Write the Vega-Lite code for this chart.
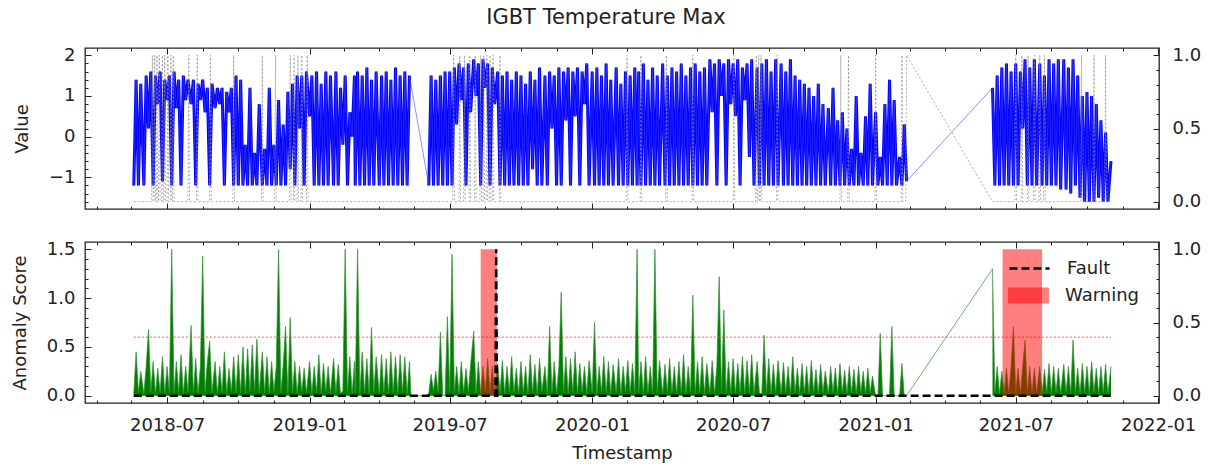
{
"$schema":"https://vega.github.io/schema/vega-lite/v6.json",
"padding":{"left":10,"top":6,"right":3,"bottom":4},
"title":{"text":"IGBT Temperature Max","anchor":"middle","fontSize":21,"fontWeight":"normal","font":"DejaVu Sans","color":"#222","offset":18},
"config":{"view":{"stroke":"#222","strokeWidth":1.3},"axis":{"domain":false,"grid":false,"offset":0,"labelFlush":false,"labelOverlap":false,"labelFont":"DejaVu Sans","labelFontSize":18,"labelColor":"#222","titleFont":"DejaVu Sans","titleFontSize":18,"titleFontWeight":"normal","titleColor":"#222","tickColor":"#222","tickWidth":1},"legend":{"padding":0}},
"datasets":{
"main":[
{"t":"2018-05-19","v":-1.2,"s":0.02},{"t":"2018-05-22","v":1.4,"s":0.45},{"t":"2018-05-25","v":-1.2,"s":0.03},{"t":"2018-05-28","v":1.3,"s":0.25},
{"t":"2018-06-01","v":-1.2,"s":0.02},{"t":"2018-06-04","v":1.5,"s":0.3},{"t":"2018-06-07","v":0.2,"s":0.68},{"t":"2018-06-10","v":1.6,"s":0.04},{"t":"2018-06-13","v":-1.2,"s":0.35},{"t":"2018-06-16","v":1.5,"s":0.02},{"t":"2018-06-19","v":0.8,"s":0.28},{"t":"2018-06-22","v":1.6,"s":0.03},{"t":"2018-06-25","v":-1.1,"s":0.4},{"t":"2018-06-28","v":1.4,"s":0.02},
{"t":"2018-07-01","v":0.9,"s":0.3},{"t":"2018-07-04","v":1.5,"s":0.03},{"t":"2018-07-07","v":-1.2,"s":1.5},{"t":"2018-07-10","v":1.6,"s":0.02},{"t":"2018-07-13","v":0.7,"s":0.35},{"t":"2018-07-16","v":1.4,"s":0.03},{"t":"2018-07-19","v":-1.2,"s":0.42},{"t":"2018-07-22","v":1.5,"s":0.02},{"t":"2018-07-25","v":0.9,"s":0.3},{"t":"2018-07-28","v":1.4,"s":0.04},
{"t":"2018-08-01","v":0.8,"s":0.72},{"t":"2018-08-04","v":1.4,"s":0.03},{"t":"2018-08-07","v":-1.2,"s":0.38},{"t":"2018-08-10","v":1.3,"s":0.02},{"t":"2018-08-13","v":0.9,"s":0.3},{"t":"2018-08-16","v":1.4,"s":1.43},{"t":"2018-08-19","v":0.6,"s":0.03},{"t":"2018-08-22","v":1.2,"s":0.35},{"t":"2018-08-25","v":-1.2,"s":0.56},{"t":"2018-08-28","v":1.3,"s":0.03},
{"t":"2018-09-01","v":0.7,"s":0.35},{"t":"2018-09-04","v":1.2,"s":0.02},{"t":"2018-09-07","v":0.8,"s":0.3},{"t":"2018-09-10","v":1.2,"s":0.03},{"t":"2018-09-13","v":-1.2,"s":0.45},{"t":"2018-09-16","v":1.1,"s":0.02},{"t":"2018-09-19","v":0.6,"s":0.28},{"t":"2018-09-22","v":1.2,"s":0.04},{"t":"2018-09-25","v":-1.2,"s":0.4},{"t":"2018-09-28","v":1.5,"s":0.03},
{"t":"2018-10-01","v":-1.2,"s":0.42},{"t":"2018-10-04","v":1.4,"s":0.03},{"t":"2018-10-07","v":-1.2,"s":0.5},{"t":"2018-10-10","v":-0.2,"s":0.02},{"t":"2018-10-13","v":-1.2,"s":0.48},{"t":"2018-10-16","v":1.2,"s":0.04},{"t":"2018-10-19","v":-1.2,"s":0.52},{"t":"2018-10-22","v":-0.4,"s":0.05},{"t":"2018-10-25","v":-1.2,"s":0.58},{"t":"2018-10-28","v":0.8,"s":0.03},
{"t":"2018-11-01","v":-1.2,"s":0.45},{"t":"2018-11-04","v":-0.3,"s":0.03},{"t":"2018-11-07","v":-1.2,"s":0.4},{"t":"2018-11-10","v":1.2,"s":0.02},{"t":"2018-11-13","v":-1.2,"s":0.35},{"t":"2018-11-16","v":-0.2,"s":0.04},{"t":"2018-11-19","v":-1.2,"s":0.3},{"t":"2018-11-22","v":0.9,"s":1.5},{"t":"2018-11-25","v":-1.2,"s":0.03},{"t":"2018-11-28","v":0.3,"s":0.32},
{"t":"2018-12-01","v":-1.2,"s":0.71},{"t":"2018-12-04","v":1.1,"s":0.02},{"t":"2018-12-07","v":-0.8,"s":0.8},{"t":"2018-12-10","v":1.3,"s":0.03},{"t":"2018-12-13","v":-1.2,"s":0.35},{"t":"2018-12-16","v":1.5,"s":0.02},{"t":"2018-12-19","v":0.2,"s":0.3},{"t":"2018-12-22","v":1.5,"s":0.04},{"t":"2018-12-25","v":-1.2,"s":0.28},{"t":"2018-12-28","v":1.6,"s":0.03},
{"t":"2019-01-01","v":0.5,"s":0.35},{"t":"2019-01-04","v":1.5,"s":0.02},{"t":"2019-01-07","v":-1.2,"s":0.3},{"t":"2019-01-10","v":1.6,"s":0.03},{"t":"2019-01-13","v":-1.2,"s":0.42},{"t":"2019-01-16","v":1.3,"s":0.02},{"t":"2019-01-19","v":-1.2,"s":0.33},{"t":"2019-01-22","v":1.6,"s":0.04},{"t":"2019-01-25","v":-1.2,"s":0.3},{"t":"2019-01-28","v":1.5,"s":0.02},
{"t":"2019-02-01","v":-1.2,"s":0.38},{"t":"2019-02-04","v":1.6,"s":0.03},{"t":"2019-02-07","v":-1.2,"s":0.32},{"t":"2019-02-10","v":1.2,"s":0.02},{"t":"2019-02-13","v":-0.2,"s":0.05},{"t":"2019-02-16","v":1.5,"s":1.5},{"t":"2019-02-19","v":-1.2,"s":0.03},{"t":"2019-02-22","v":0.6,"s":0.4},{"t":"2019-02-25","v":0.0,"s":0.02},{"t":"2019-02-28","v":1.5,"s":0.35},
{"t":"2019-03-01","v":-1.2,"s":0.03},{"t":"2019-03-04","v":1.6,"s":1.5},{"t":"2019-03-07","v":-1.2,"s":0.02},{"t":"2019-03-10","v":1.5,"s":0.45},{"t":"2019-03-13","v":-1.2,"s":0.03},{"t":"2019-03-16","v":1.7,"s":0.38},{"t":"2019-03-19","v":-1.2,"s":0.02},{"t":"2019-03-22","v":1.4,"s":0.7},{"t":"2019-03-25","v":-1.2,"s":0.03},{"t":"2019-03-28","v":1.6,"s":0.4},
{"t":"2019-04-01","v":-1.2,"s":0.02},{"t":"2019-04-04","v":1.5,"s":0.42},{"t":"2019-04-07","v":-1.2,"s":0.03},{"t":"2019-04-10","v":1.6,"s":0.38},{"t":"2019-04-13","v":-1.2,"s":0.02},{"t":"2019-04-16","v":1.4,"s":0.45},{"t":"2019-04-19","v":-1.2,"s":0.03},{"t":"2019-04-22","v":1.7,"s":0.4},{"t":"2019-04-25","v":-1.2,"s":0.02},{"t":"2019-04-28","v":1.5,"s":0.42},
{"t":"2019-05-01","v":-1.2,"s":0.03},{"t":"2019-05-04","v":1.6,"s":0.4},{"t":"2019-05-07","v":-1.2,"s":0.02},{"t":"2019-05-10","v":1.5,"s":0.35},{"t":"2019-05-12","s":0.0},{"t":"2019-06-02","s":0.0},
{"t":"2019-06-04","v":-1.2,"s":0.03},{"t":"2019-06-07","v":1.5,"s":0.22},{"t":"2019-06-10","v":-1.2,"s":0.05},{"t":"2019-06-13","v":1.4,"s":0.25},{"t":"2019-06-16","v":-1.2,"s":0.04},{"t":"2019-06-19","v":1.5,"s":0.65},{"t":"2019-06-22","v":-1.2,"s":0.0},{"t":"2019-06-25","v":1.6,"s":0.0},{"t":"2019-06-28","v":-1.2,"s":0.81},
{"t":"2019-07-01","v":1.6,"s":0.04},{"t":"2019-07-04","v":-1.2,"s":1.45},{"t":"2019-07-07","v":1.7,"s":0.03},{"t":"2019-07-10","v":0.3,"s":0.3},{"t":"2019-07-13","v":1.8,"s":0.02},{"t":"2019-07-16","v":0.9,"s":0.35},{"t":"2019-07-19","v":1.7,"s":0.03},{"t":"2019-07-22","v":-1.2,"s":0.28},{"t":"2019-07-25","v":1.8,"s":0.04},{"t":"2019-07-28","v":0.6,"s":0.32},
{"t":"2019-08-01","v":1.9,"s":0.66},{"t":"2019-08-04","v":1.0,"s":0.03},{"t":"2019-08-07","v":1.8,"s":0.35},{"t":"2019-08-10","v":-1.2,"s":0.02},{"t":"2019-08-13","v":1.9,"s":0.3},{"t":"2019-08-16","v":1.2,"s":0.04},{"t":"2019-08-19","v":1.8,"s":0.38},{"t":"2019-08-22","v":-1.2,"s":0.03},{"t":"2019-08-25","v":1.7,"s":0.3},{"t":"2019-08-28","v":0.8,"s":0.02},
{"t":"2019-09-01","v":1.6,"s":0.33},{"t":"2019-09-04","v":-1.2,"s":0.03},{"t":"2019-09-07","v":1.5,"s":0.36},{"t":"2019-09-10","v":-1.2,"s":0.02},{"t":"2019-09-13","v":1.6,"s":0.3},{"t":"2019-09-16","v":-1.2,"s":0.04},{"t":"2019-09-19","v":1.4,"s":0.4},{"t":"2019-09-22","v":-1.2,"s":0.03},{"t":"2019-09-25","v":1.6,"s":0.28},{"t":"2019-09-28","v":-1.2,"s":0.02},
{"t":"2019-10-01","v":1.5,"s":0.35},{"t":"2019-10-04","v":-1.2,"s":0.03},{"t":"2019-10-07","v":1.3,"s":0.3},{"t":"2019-10-10","v":-1.2,"s":0.02},{"t":"2019-10-13","v":1.6,"s":0.42},{"t":"2019-10-16","v":-0.8,"s":0.03},{"t":"2019-10-19","v":1.4,"s":0.32},{"t":"2019-10-22","v":-1.2,"s":0.02},{"t":"2019-10-25","v":1.7,"s":0.38},{"t":"2019-10-28","v":-1.2,"s":0.04},
{"t":"2019-11-01","v":1.5,"s":0.3},{"t":"2019-11-04","v":-1.2,"s":0.02},{"t":"2019-11-07","v":1.6,"s":0.71},{"t":"2019-11-10","v":0.2,"s":0.03},{"t":"2019-11-13","v":1.5,"s":0.35},{"t":"2019-11-16","v":-1.2,"s":0.02},{"t":"2019-11-19","v":1.7,"s":0.3},{"t":"2019-11-22","v":-1.2,"s":1.06},{"t":"2019-11-25","v":1.6,"s":0.03},{"t":"2019-11-28","v":0.4,"s":0.4},
{"t":"2019-12-01","v":1.7,"s":0.02},{"t":"2019-12-04","v":-1.2,"s":0.38},{"t":"2019-12-07","v":1.6,"s":0.03},{"t":"2019-12-10","v":0.5,"s":0.45},{"t":"2019-12-13","v":1.7,"s":0.02},{"t":"2019-12-16","v":-1.2,"s":0.33},{"t":"2019-12-19","v":1.6,"s":0.04},{"t":"2019-12-22","v":0.8,"s":0.3},{"t":"2019-12-25","v":1.8,"s":0.02},{"t":"2019-12-28","v":-1.2,"s":0.36},
{"t":"2020-01-01","v":1.6,"s":0.03},{"t":"2020-01-04","v":-1.2,"s":0.75},{"t":"2020-01-07","v":1.7,"s":0.02},{"t":"2020-01-10","v":-1.2,"s":0.3},{"t":"2020-01-13","v":1.5,"s":0.04},{"t":"2020-01-16","v":-1.2,"s":0.4},{"t":"2020-01-19","v":1.8,"s":0.03},{"t":"2020-01-22","v":-1.2,"s":0.35},{"t":"2020-01-25","v":1.4,"s":0.02},{"t":"2020-01-28","v":-1.2,"s":0.32},
{"t":"2020-02-01","v":1.7,"s":0.03},{"t":"2020-02-04","v":-1.2,"s":0.38},{"t":"2020-02-07","v":1.3,"s":0.02},{"t":"2020-02-10","v":-1.2,"s":0.3},{"t":"2020-02-13","v":1.6,"s":0.04},{"t":"2020-02-16","v":-1.2,"s":0.36},{"t":"2020-02-19","v":1.5,"s":0.03},{"t":"2020-02-22","v":-1.2,"s":0.33},{"t":"2020-02-25","v":1.7,"s":0.02},{"t":"2020-02-28","v":-1.2,"s":1.5},
{"t":"2020-03-01","v":1.6,"s":0.03},{"t":"2020-03-04","v":-1.2,"s":0.35},{"t":"2020-03-07","v":1.8,"s":0.02},{"t":"2020-03-10","v":-1.2,"s":0.4},{"t":"2020-03-13","v":1.4,"s":0.03},{"t":"2020-03-16","v":-1.2,"s":0.3},{"t":"2020-03-19","v":1.7,"s":0.02},{"t":"2020-03-22","v":-1.2,"s":1.5},{"t":"2020-03-25","v":1.5,"s":0.03},{"t":"2020-03-28","v":-1.2,"s":0.36},
{"t":"2020-04-01","v":1.8,"s":0.02},{"t":"2020-04-04","v":-1.2,"s":0.32},{"t":"2020-04-07","v":1.5,"s":0.04},{"t":"2020-04-10","v":-1.2,"s":0.38},{"t":"2020-04-13","v":1.7,"s":0.03},{"t":"2020-04-16","v":-1.2,"s":0.3},{"t":"2020-04-19","v":1.6,"s":0.02},{"t":"2020-04-22","v":-1.2,"s":0.35},{"t":"2020-04-25","v":1.8,"s":0.03},{"t":"2020-04-28","v":-1.2,"s":0.42},
{"t":"2020-05-01","v":1.5,"s":0.02},{"t":"2020-05-04","v":-1.2,"s":0.3},{"t":"2020-05-07","v":1.7,"s":0.03},{"t":"2020-05-10","v":-1.2,"s":1.03},{"t":"2020-05-13","v":1.8,"s":0.02},{"t":"2020-05-16","v":-1.2,"s":0.35},{"t":"2020-05-19","v":1.6,"s":0.03},{"t":"2020-05-22","v":-1.2,"s":0.4},{"t":"2020-05-25","v":1.7,"s":0.02},{"t":"2020-05-28","v":-1.2,"s":0.33},
{"t":"2020-06-01","v":1.9,"s":0.03},{"t":"2020-06-04","v":0.6,"s":0.36},{"t":"2020-06-07","v":1.8,"s":0.02},{"t":"2020-06-10","v":-1.2,"s":0.3},{"t":"2020-06-13","v":1.9,"s":1.22},{"t":"2020-06-16","v":1.0,"s":0.03},{"t":"2020-06-19","v":1.8,"s":0.88},{"t":"2020-06-22","v":-1.2,"s":0.02},{"t":"2020-06-25","v":1.9,"s":0.35},{"t":"2020-06-28","v":0.8,"s":0.03},
{"t":"2020-07-01","v":1.8,"s":0.38},{"t":"2020-07-04","v":0.5,"s":0.02},{"t":"2020-07-07","v":1.9,"s":0.33},{"t":"2020-07-10","v":-1.2,"s":0.03},{"t":"2020-07-13","v":1.7,"s":0.4},{"t":"2020-07-16","v":0.9,"s":0.02},{"t":"2020-07-19","v":1.8,"s":0.36},{"t":"2020-07-22","v":-0.5,"s":0.03},{"t":"2020-07-25","v":1.9,"s":0.42},{"t":"2020-07-28","v":-1.2,"s":0.02},
{"t":"2020-08-01","v":1.7,"s":0.35},{"t":"2020-08-04","v":-1.2,"s":0.03},{"t":"2020-08-07","v":1.8,"s":0.02},{"t":"2020-08-10","v":-1.2,"s":0.62},{"t":"2020-08-13","v":1.9,"s":0.03},{"t":"2020-08-16","v":-1.2,"s":0.38},{"t":"2020-08-19","v":1.6,"s":0.02},{"t":"2020-08-22","v":-1.2,"s":0.32},{"t":"2020-08-25","v":1.9,"s":0.03},{"t":"2020-08-28","v":-1.2,"s":0.36},
{"t":"2020-09-01","v":1.8,"s":0.02},{"t":"2020-09-04","v":-1.2,"s":0.34},{"t":"2020-09-07","v":1.6,"s":0.03},{"t":"2020-09-10","v":-1.2,"s":0.3},{"t":"2020-09-13","v":1.9,"s":0.02},{"t":"2020-09-16","v":-1.2,"s":0.4},{"t":"2020-09-19","v":1.5,"s":0.03},{"t":"2020-09-22","v":-1.2,"s":0.28},{"t":"2020-09-25","v":1.4,"s":0.02},{"t":"2020-09-28","v":-1.2,"s":0.33},
{"t":"2020-10-01","v":1.3,"s":0.03},{"t":"2020-10-04","v":-1.2,"s":0.3},{"t":"2020-10-07","v":1.2,"s":0.02},{"t":"2020-10-10","v":-1.2,"s":0.36},{"t":"2020-10-13","v":1.0,"s":0.03},{"t":"2020-10-16","v":-1.2,"s":0.27},{"t":"2020-10-19","v":1.3,"s":0.02},{"t":"2020-10-22","v":-1.2,"s":0.32},{"t":"2020-10-25","v":0.8,"s":0.03},{"t":"2020-10-28","v":-1.2,"s":0.25},
{"t":"2020-11-01","v":0.7,"s":0.02},{"t":"2020-11-04","v":-1.2,"s":0.3},{"t":"2020-11-07","v":1.2,"s":0.03},{"t":"2020-11-10","v":-1.2,"s":0.28},{"t":"2020-11-13","v":0.4,"s":0.02},{"t":"2020-11-16","v":-1.2,"s":0.33},{"t":"2020-11-19","v":0.6,"s":0.03},{"t":"2020-11-22","v":-1.2,"s":0.26},{"t":"2020-11-25","v":0.2,"s":0.02},{"t":"2020-11-28","v":-1.2,"s":0.3},
{"t":"2020-12-01","v":-0.3,"s":0.03},{"t":"2020-12-04","v":-1.2,"s":0.27},{"t":"2020-12-07","v":1.0,"s":0.02},{"t":"2020-12-10","v":-1.2,"s":0.3},{"t":"2020-12-13","v":-0.4,"s":0.03},{"t":"2020-12-16","v":-1.2,"s":0.25},{"t":"2020-12-19","v":0.5,"s":0.02},{"t":"2020-12-22","v":-1.2,"s":0.28},{"t":"2020-12-25","v":1.3,"s":0.03},{"t":"2020-12-28","v":-1.2,"s":0.2},
{"t":"2021-01-01","v":0.6,"s":0.0},{"t":"2021-01-04","v":-1.2,"s":0.0},{"t":"2021-01-07","v":-0.5,"s":0.64},{"t":"2021-01-10","v":-1.2,"s":0.0},{"t":"2021-01-13","v":0.8,"s":0.0},{"t":"2021-01-16","v":-1.2,"s":0.0},{"t":"2021-01-19","v":1.4,"s":0.0},{"t":"2021-01-22","v":-1.2,"s":0.71},{"t":"2021-01-25","v":0.9,"s":0.0},{"t":"2021-01-28","v":-1.2,"s":0.0},
{"t":"2021-02-01","v":-0.5,"s":0.0},{"t":"2021-02-04","v":-1.2,"s":0.33},{"t":"2021-02-07","v":0.3,"s":0.0},{"t":"2021-02-10","v":-1.1,"s":0.0},{"t":"2021-04-01"},
{"t":"2021-06-01","v":1.2,"s":1.3},{"t":"2021-06-04","v":-1.2,"s":0.03},{"t":"2021-06-07","v":1.5,"s":0.3},{"t":"2021-06-10","v":-1.2,"s":0.02},{"t":"2021-06-13","v":1.7,"s":0.25},{"t":"2021-06-16","v":-1.2,"s":0.03},{"t":"2021-06-19","v":1.8,"s":0.28},{"t":"2021-06-22","v":-1.2,"s":0.02},{"t":"2021-06-25","v":1.6,"s":0.3},{"t":"2021-06-28","v":-1.2,"s":0.71},
{"t":"2021-07-01","v":1.8,"s":0.03},{"t":"2021-07-04","v":-1.2,"s":0.28},{"t":"2021-07-07","v":1.6,"s":0.02},{"t":"2021-07-10","v":0.2,"s":0.3},{"t":"2021-07-13","v":1.9,"s":0.57},{"t":"2021-07-16","v":-1.2,"s":0.03},{"t":"2021-07-19","v":1.7,"s":0.3},{"t":"2021-07-22","v":-1.2,"s":0.02},{"t":"2021-07-25","v":1.9,"s":0.28},{"t":"2021-07-28","v":-1.2,"s":0.03},
{"t":"2021-08-01","v":1.8,"s":0.3},{"t":"2021-08-04","v":-1.2,"s":0.02},{"t":"2021-08-07","v":1.5,"s":0.27},{"t":"2021-08-10","v":-1.2,"s":0.03},{"t":"2021-08-13","v":1.9,"s":0.33},{"t":"2021-08-16","v":-1.2,"s":0.02},{"t":"2021-08-19","v":1.8,"s":0.3},{"t":"2021-08-22","v":-1.2,"s":0.03},{"t":"2021-08-25","v":1.9,"s":0.28},{"t":"2021-08-28","v":-1.3,"s":0.02},
{"t":"2021-09-01","v":1.9,"s":0.32},{"t":"2021-09-04","v":-1.3,"s":0.03},{"t":"2021-09-07","v":1.7,"s":0.3},{"t":"2021-09-10","v":-1.4,"s":0.02},{"t":"2021-09-13","v":1.9,"s":0.57},{"t":"2021-09-16","v":-1.2,"s":0.03},{"t":"2021-09-19","v":1.5,"s":0.28},{"t":"2021-09-22","v":-1.5,"s":0.02},{"t":"2021-09-25","v":1.0,"s":0.33},{"t":"2021-09-28","v":-1.6,"s":0.03},
{"t":"2021-10-01","v":1.1,"s":0.3},{"t":"2021-10-04","v":-1.6,"s":0.02},{"t":"2021-10-07","v":1.0,"s":0.35},{"t":"2021-10-10","v":-1.6,"s":0.03},{"t":"2021-10-13","v":0.8,"s":0.28},{"t":"2021-10-16","v":-1.5,"s":0.02},{"t":"2021-10-19","v":0.4,"s":0.3},{"t":"2021-10-22","v":-1.6,"s":0.03},{"t":"2021-10-25","v":0.1,"s":0.32},{"t":"2021-10-28","v":-1.6,"s":0.02},
{"t":"2021-11-01","v":-0.6,"s":0.3}
],
"gray":[
{"t":"2018-05-19","g":0},
{"t":"2018-06-11","g":0},{"t":"2018-06-12","g":1},{"t":"2018-06-13","g":0},{"t":"2018-06-14","g":0},{"t":"2018-06-15","g":1},{"t":"2018-06-16","g":0},{"t":"2018-06-17","g":0},{"t":"2018-06-18","g":1},{"t":"2018-06-19","g":0},{"t":"2018-06-20","g":0},{"t":"2018-06-21","g":1},{"t":"2018-06-22","g":0},{"t":"2018-06-24","g":0},{"t":"2018-06-25","g":1},{"t":"2018-06-26","g":0},{"t":"2018-06-27","g":0},{"t":"2018-06-28","g":1},{"t":"2018-06-29","g":0},
{"t":"2018-07-01","g":0},{"t":"2018-07-02","g":1},{"t":"2018-07-03","g":0},{"t":"2018-07-05","g":0},{"t":"2018-07-06","g":1},{"t":"2018-07-07","g":0},{"t":"2018-07-08","g":0},{"t":"2018-07-09","g":1},{"t":"2018-07-10","g":0},{"t":"2018-07-28","g":0},{"t":"2018-07-29","g":1},{"t":"2018-07-30","g":0},
{"t":"2018-08-08","g":0},{"t":"2018-08-09","g":1},{"t":"2018-08-10","g":0},{"t":"2018-08-25","g":0},{"t":"2018-08-26","g":1},{"t":"2018-08-27","g":0},{"t":"2018-09-24","g":0},{"t":"2018-09-25","g":1},{"t":"2018-09-26","g":0},
{"t":"2018-10-31","g":0},{"t":"2018-11-01","g":1},{"t":"2018-11-02","g":0},{"t":"2018-11-17","g":0},{"t":"2018-11-18","g":1},{"t":"2018-11-19","g":0},
{"t":"2018-12-06","g":0},{"t":"2018-12-07","g":1},{"t":"2018-12-08","g":0},{"t":"2018-12-11","g":0},{"t":"2018-12-12","g":1},{"t":"2018-12-13","g":0},{"t":"2018-12-16","g":0},{"t":"2018-12-17","g":1},{"t":"2018-12-18","g":0},{"t":"2018-12-21","g":0},{"t":"2018-12-22","g":1},{"t":"2018-12-23","g":0},{"t":"2018-12-28","g":0},{"t":"2018-12-29","g":1},{"t":"2018-12-30","g":0},
{"t":"2019-07-05","g":0},{"t":"2019-07-06","g":1},{"t":"2019-07-07","g":0},{"t":"2019-07-13","g":0},{"t":"2019-07-14","g":1},{"t":"2019-07-15","g":0},{"t":"2019-07-19","g":0},{"t":"2019-07-20","g":1},{"t":"2019-07-21","g":0},{"t":"2019-07-26","g":0},{"t":"2019-07-27","g":1},{"t":"2019-07-28","g":0},
{"t":"2019-08-02","g":0},{"t":"2019-08-03","g":1},{"t":"2019-08-04","g":0},{"t":"2019-08-09","g":0},{"t":"2019-08-10","g":1},{"t":"2019-08-11","g":0},{"t":"2019-08-13","g":0},{"t":"2019-08-14","g":1},{"t":"2019-08-15","g":0},{"t":"2019-08-17","g":0},{"t":"2019-08-18","g":1},{"t":"2019-08-19","g":0},{"t":"2019-08-21","g":0},{"t":"2019-08-22","g":1},{"t":"2019-08-23","g":0},{"t":"2019-08-25","g":0},{"t":"2019-08-26","g":1},{"t":"2019-08-27","g":0},{"t":"2019-09-03","g":0},{"t":"2019-09-04","g":1},{"t":"2019-09-05","g":0},
{"t":"2020-02-14","g":0},{"t":"2020-02-15","g":1},{"t":"2020-02-16","g":0},{"t":"2020-03-03","g":0},{"t":"2020-03-04","g":1},{"t":"2020-03-05","g":0},{"t":"2020-04-05","g":0},{"t":"2020-04-06","g":1},{"t":"2020-04-07","g":0},{"t":"2020-05-09","g":0},{"t":"2020-05-10","g":1},{"t":"2020-05-11","g":0},
{"t":"2020-07-01","g":0},{"t":"2020-07-02","g":1},{"t":"2020-07-03","g":0},{"t":"2020-07-30","g":0},{"t":"2020-07-31","g":1},{"t":"2020-08-01","g":0},{"t":"2020-08-02","g":0},{"t":"2020-08-03","g":1},{"t":"2020-08-04","g":0},{"t":"2020-08-05","g":0},{"t":"2020-08-06","g":1},{"t":"2020-08-07","g":0},{"t":"2020-08-26","g":0},{"t":"2020-08-27","g":1},{"t":"2020-08-28","g":0},
{"t":"2020-11-16","g":0},{"t":"2020-11-17","g":1},{"t":"2020-11-18","g":0},{"t":"2020-11-26","g":0},{"t":"2020-11-27","g":1},{"t":"2020-11-28","g":0},{"t":"2020-12-31","g":0},{"t":"2021-01-01","g":1},{"t":"2021-01-02","g":0},
{"t":"2021-02-03","g":0},{"t":"2021-02-04","g":1},{"t":"2021-02-05","g":0},{"t":"2021-02-09","g":0},{"t":"2021-02-10","g":1},
{"t":"2021-06-01","g":0},{"t":"2021-06-30","g":0},{"t":"2021-07-01","g":1},{"t":"2021-07-02","g":0},{"t":"2021-07-08","g":0},{"t":"2021-07-09","g":1},{"t":"2021-07-10","g":0},{"t":"2021-07-16","g":0},{"t":"2021-07-17","g":1},{"t":"2021-07-18","g":0},{"t":"2021-07-24","g":0},{"t":"2021-07-25","g":1},{"t":"2021-07-26","g":0},{"t":"2021-07-31","g":0},{"t":"2021-08-01","g":1},{"t":"2021-08-02","g":0},{"t":"2021-08-06","g":0},{"t":"2021-08-07","g":1},{"t":"2021-08-08","g":0},
{"t":"2021-09-23","g":0},{"t":"2021-09-24","g":1},{"t":"2021-09-25","g":0},{"t":"2021-10-09","g":0},{"t":"2021-10-10","g":1},{"t":"2021-10-11","g":0},{"t":"2021-10-24","g":0},{"t":"2021-10-25","g":1},{"t":"2021-10-26","g":0},{"t":"2021-11-01","g":0}
],
"fault":[{"t":"2018-05-19","f":0},{"t":"2019-08-29","f":0},{"t":"2019-08-30","f":1},{"t":"2019-08-31","f":0},{"t":"2021-11-01","f":0}],
"warning":[{"a":"2019-08-10","b":"2019-08-31"},{"a":"2021-06-14","b":"2021-08-04"}],
"threshold":[{"t":"2018-05-19","s":0.6},{"t":"2021-11-01","s":0.6}],
"carrier":[{"t":"2019-01-01","v":0}]
},
"vconcat":[
{"width":1074,"height":161,
"layer":[
{"data":{"name":"main"},"mark":{"type":"line","color":"#0000ff","strokeWidth":3,"invalid":"break-paths-show-domains"},
"encoding":{"x":{"field":"t","type":"temporal","scale":{"domain":[{"year":2018,"month":3,"date":17},{"year":2022,"month":1,"date":2}],"nice":false},"axis":{"orient":"bottom","values":[{"year":2018,"month":7,"date":1},{"year":2019,"month":1,"date":1},{"year":2019,"month":7,"date":1},{"year":2020,"month":1,"date":1},{"year":2020,"month":7,"date":1},{"year":2021,"month":1,"date":1},{"year":2021,"month":7,"date":1},{"year":2022,"month":1,"date":1}],"labels":false,"tickSize":-6,"title":null}},
"y":{"field":"v","type":"quantitative","scale":{"domain":[-1.78,2.18],"nice":false,"zero":false},"axis":{"orient":"left","values":[-1,0,1,2],"format":"d","tickSize":-6,"labelPadding":16,"title":"Value","titlePadding":17}}}},
{"data":{"name":"main"},"mark":{"type":"line","color":"#4040ff","strokeWidth":0.6,"invalid":"filter"},
"encoding":{"x":{"field":"t","type":"temporal","scale":{"domain":[{"year":2018,"month":3,"date":17},{"year":2022,"month":1,"date":2}],"nice":false},"axis":null},
"y":{"field":"v","type":"quantitative","scale":{"domain":[-1.78,2.18],"nice":false,"zero":false},"axis":null}}},
{"data":{"name":"gray"},"mark":{"type":"line","color":"#8a8a8a","strokeWidth":0.7,"strokeDash":[2,2]},
"encoding":{"x":{"field":"t","type":"temporal","scale":{"domain":[{"year":2018,"month":3,"date":17},{"year":2022,"month":1,"date":2}],"nice":false},"axis":{"orient":"top","values":[{"year":2018,"month":7,"date":1},{"year":2019,"month":1,"date":1},{"year":2019,"month":7,"date":1},{"year":2020,"month":1,"date":1},{"year":2020,"month":7,"date":1},{"year":2021,"month":1,"date":1},{"year":2021,"month":7,"date":1},{"year":2022,"month":1,"date":1}],"labels":false,"tickSize":-6,"title":null}},
"y":{"field":"g","type":"quantitative","scale":{"domain":[-0.05,1.05],"nice":false,"zero":false},"axis":{"orient":"right","values":[0,0.5,1],"format":".1f","tickSize":-6,"labelPadding":19,"title":null}}}},
{"data":{"name":"carrier"},"mark":{"type":"point","opacity":0},
"encoding":{"x":{"field":"t","type":"temporal","scale":{"domain":[{"year":2018,"month":3,"date":17},{"year":2022,"month":1,"date":2}],"nice":false},"axis":{"orient":"bottom","values":[{"year":2018,"month":4,"date":1},{"year":2018,"month":5,"date":16},{"year":2018,"month":8,"date":16},{"year":2018,"month":10,"date":1},{"year":2018,"month":11,"date":16},{"year":2019,"month":2,"date":15},{"year":2019,"month":4,"date":1},{"year":2019,"month":5,"date":16},{"year":2019,"month":8,"date":16},{"year":2019,"month":10,"date":1},{"year":2019,"month":11,"date":16},{"year":2020,"month":2,"date":15},{"year":2020,"month":4,"date":1},{"year":2020,"month":5,"date":16},{"year":2020,"month":8,"date":16},{"year":2020,"month":10,"date":1},{"year":2020,"month":11,"date":16},{"year":2021,"month":2,"date":15},{"year":2021,"month":4,"date":1},{"year":2021,"month":5,"date":16},{"year":2021,"month":8,"date":16},{"year":2021,"month":10,"date":1},{"year":2021,"month":11,"date":16}],"labels":false,"tickSize":-3,"title":null}},
"y":{"field":"v","type":"quantitative","scale":{"domain":[-1.78,2.18],"nice":false,"zero":false},"axis":{"orient":"left","values":[-1.6,-1.4,-1.2,-0.8,-0.6,-0.4,-0.2,0.2,0.4,0.6,0.8,1.2,1.4,1.6,1.8],"labels":false,"tickSize":-3,"title":null}}}},
{"data":{"name":"carrier"},"mark":{"type":"point","opacity":0},
"encoding":{"x":{"field":"t","type":"temporal","scale":{"domain":[{"year":2018,"month":3,"date":17},{"year":2022,"month":1,"date":2}],"nice":false},"axis":{"orient":"top","values":[{"year":2018,"month":4,"date":1},{"year":2018,"month":5,"date":16},{"year":2018,"month":8,"date":16},{"year":2018,"month":10,"date":1},{"year":2018,"month":11,"date":16},{"year":2019,"month":2,"date":15},{"year":2019,"month":4,"date":1},{"year":2019,"month":5,"date":16},{"year":2019,"month":8,"date":16},{"year":2019,"month":10,"date":1},{"year":2019,"month":11,"date":16},{"year":2020,"month":2,"date":15},{"year":2020,"month":4,"date":1},{"year":2020,"month":5,"date":16},{"year":2020,"month":8,"date":16},{"year":2020,"month":10,"date":1},{"year":2020,"month":11,"date":16},{"year":2021,"month":2,"date":15},{"year":2021,"month":4,"date":1},{"year":2021,"month":5,"date":16},{"year":2021,"month":8,"date":16},{"year":2021,"month":10,"date":1},{"year":2021,"month":11,"date":16}],"labels":false,"tickSize":-3,"title":null}},
"y":{"field":"v","type":"quantitative","scale":{"domain":[-0.05,1.05],"nice":false,"zero":false},"axis":{"orient":"right","values":[0.1,0.2,0.3,0.4,0.6,0.7,0.8,0.9],"labels":false,"tickSize":-3,"title":null}}}}
],
"resolve":{"scale":{"x":"independent","y":"independent"},"axis":{"x":"independent","y":"independent"}}
},
{"width":1074,"height":161,
"layer":[
{"data":{"name":"main"},"mark":{"type":"area","color":"#008000","invalid":"break-paths-show-domains"},
"encoding":{"x":{"field":"t","type":"temporal","scale":{"domain":[{"year":2018,"month":3,"date":17},{"year":2022,"month":1,"date":2}],"nice":false},"axis":{"orient":"bottom","values":[{"year":2018,"month":7,"date":1},{"year":2019,"month":1,"date":1},{"year":2019,"month":7,"date":1},{"year":2020,"month":1,"date":1},{"year":2020,"month":7,"date":1},{"year":2021,"month":1,"date":1},{"year":2021,"month":7,"date":1},{"year":2022,"month":1,"date":1}],"format":"%Y-%m","tickSize":-6,"labelPadding":19,"title":"Timestamp","titlePadding":10}},
"y":{"field":"s","type":"quantitative","scale":{"domain":[-0.075,1.575],"nice":false,"zero":false},"axis":{"orient":"left","values":[0,0.5,1,1.5],"format":".1f","tickSize":-6,"labelPadding":16,"title":"Anomaly Score","titlePadding":17}},
"y2":{"datum":0}}},
{"data":{"name":"main"},"mark":{"type":"line","color":"#2f8f2f","strokeWidth":0.7,"invalid":"filter"},
"encoding":{"x":{"field":"t","type":"temporal","scale":{"domain":[{"year":2018,"month":3,"date":17},{"year":2022,"month":1,"date":2}],"nice":false},"axis":null},
"y":{"field":"s","type":"quantitative","scale":{"domain":[-0.075,1.575],"nice":false,"zero":false},"axis":null}}},
{"data":{"name":"threshold"},"mark":{"type":"line","color":"#ff4040","strokeWidth":0.9,"strokeDash":[2,2]},
"encoding":{"x":{"field":"t","type":"temporal","scale":{"domain":[{"year":2018,"month":3,"date":17},{"year":2022,"month":1,"date":2}],"nice":false},"axis":null},
"y":{"field":"s","type":"quantitative","scale":{"domain":[-0.075,1.575],"nice":false,"zero":false},"axis":null}}},
{"data":{"name":"warning"},"mark":{"type":"rect","opacity":0.5},
"encoding":{"x":{"field":"a","type":"temporal","scale":{"domain":[{"year":2018,"month":3,"date":17},{"year":2022,"month":1,"date":2}],"nice":false},"axis":null},"x2":{"field":"b"},
"y":{"datum":0,"type":"quantitative","scale":{"domain":[-0.05,1.05],"nice":false,"zero":false},"axis":null},"y2":{"datum":1},
"fill":{"datum":"Warning","type":"nominal","scale":{"domain":["Warning"],"range":["#ff0000"]},
"legend":{"title":null,"orient":"none","legendX":923,"legendY":237,"padding":0,"symbolType":"M-1,-0.75H3V0.75H-1Z","symbolSize":400,"symbolOpacity":0.5,"symbolStrokeColor":"#ff0000","symbolStrokeWidth":1,"labelOffset":36,"labelFont":"DejaVu Sans","labelFontSize":18,"labelColor":"#222"}}}},
{"data":{"name":"fault"},"mark":{"type":"line","color":"#000000","strokeWidth":2.5},
"encoding":{"x":{"field":"t","type":"temporal","scale":{"domain":[{"year":2018,"month":3,"date":17},{"year":2022,"month":1,"date":2}],"nice":false},"axis":{"orient":"top","values":[{"year":2018,"month":7,"date":1},{"year":2019,"month":1,"date":1},{"year":2019,"month":7,"date":1},{"year":2020,"month":1,"date":1},{"year":2020,"month":7,"date":1},{"year":2021,"month":1,"date":1},{"year":2021,"month":7,"date":1},{"year":2022,"month":1,"date":1}],"labels":false,"tickSize":-6,"title":null}},
"y":{"field":"f","type":"quantitative","scale":{"domain":[-0.05,1.05],"nice":false,"zero":false},"axis":{"orient":"right","values":[0,0.5,1],"format":".1f","tickSize":-6,"labelPadding":19,"title":null}},
"strokeDash":{"datum":"Fault","type":"nominal","scale":{"domain":["Fault"],"range":[[8,4]]},
"legend":{"title":null,"orient":"none","legendX":923,"legendY":209,"padding":0,"symbolType":"M-1,0H3","symbolSize":400,"symbolStrokeColor":"#000000","symbolStrokeWidth":2.5,"symbolFillColor":"transparent","labelOffset":36,"labelFont":"DejaVu Sans","labelFontSize":18,"labelColor":"#222"}}}},
{"data":{"name":"carrier"},"mark":{"type":"point","opacity":0},
"encoding":{"x":{"field":"t","type":"temporal","scale":{"domain":[{"year":2018,"month":3,"date":17},{"year":2022,"month":1,"date":2}],"nice":false},"axis":{"orient":"bottom","values":[{"year":2018,"month":4,"date":1},{"year":2018,"month":5,"date":16},{"year":2018,"month":8,"date":16},{"year":2018,"month":10,"date":1},{"year":2018,"month":11,"date":16},{"year":2019,"month":2,"date":15},{"year":2019,"month":4,"date":1},{"year":2019,"month":5,"date":16},{"year":2019,"month":8,"date":16},{"year":2019,"month":10,"date":1},{"year":2019,"month":11,"date":16},{"year":2020,"month":2,"date":15},{"year":2020,"month":4,"date":1},{"year":2020,"month":5,"date":16},{"year":2020,"month":8,"date":16},{"year":2020,"month":10,"date":1},{"year":2020,"month":11,"date":16},{"year":2021,"month":2,"date":15},{"year":2021,"month":4,"date":1},{"year":2021,"month":5,"date":16},{"year":2021,"month":8,"date":16},{"year":2021,"month":10,"date":1},{"year":2021,"month":11,"date":16}],"labels":false,"tickSize":-3,"title":null}},
"y":{"field":"v","type":"quantitative","scale":{"domain":[-0.075,1.575],"nice":false,"zero":false},"axis":{"orient":"left","values":[0.1,0.2,0.3,0.4,0.6,0.7,0.8,0.9,1.1,1.2,1.3,1.4],"labels":false,"tickSize":-3,"title":null}}}},
{"data":{"name":"carrier"},"mark":{"type":"point","opacity":0},
"encoding":{"x":{"field":"t","type":"temporal","scale":{"domain":[{"year":2018,"month":3,"date":17},{"year":2022,"month":1,"date":2}],"nice":false},"axis":{"orient":"top","values":[{"year":2018,"month":4,"date":1},{"year":2018,"month":5,"date":16},{"year":2018,"month":8,"date":16},{"year":2018,"month":10,"date":1},{"year":2018,"month":11,"date":16},{"year":2019,"month":2,"date":15},{"year":2019,"month":4,"date":1},{"year":2019,"month":5,"date":16},{"year":2019,"month":8,"date":16},{"year":2019,"month":10,"date":1},{"year":2019,"month":11,"date":16},{"year":2020,"month":2,"date":15},{"year":2020,"month":4,"date":1},{"year":2020,"month":5,"date":16},{"year":2020,"month":8,"date":16},{"year":2020,"month":10,"date":1},{"year":2020,"month":11,"date":16},{"year":2021,"month":2,"date":15},{"year":2021,"month":4,"date":1},{"year":2021,"month":5,"date":16},{"year":2021,"month":8,"date":16},{"year":2021,"month":10,"date":1},{"year":2021,"month":11,"date":16}],"labels":false,"tickSize":-3,"title":null}},
"y":{"field":"v","type":"quantitative","scale":{"domain":[-0.05,1.05],"nice":false,"zero":false},"axis":{"orient":"right","values":[0.1,0.2,0.3,0.4,0.6,0.7,0.8,0.9],"labels":false,"tickSize":-3,"title":null}}}}
],
"resolve":{"scale":{"x":"independent","y":"independent"},"axis":{"x":"independent","y":"independent"}}
}
],
"spacing":33,
"bounds":"flush"
}
